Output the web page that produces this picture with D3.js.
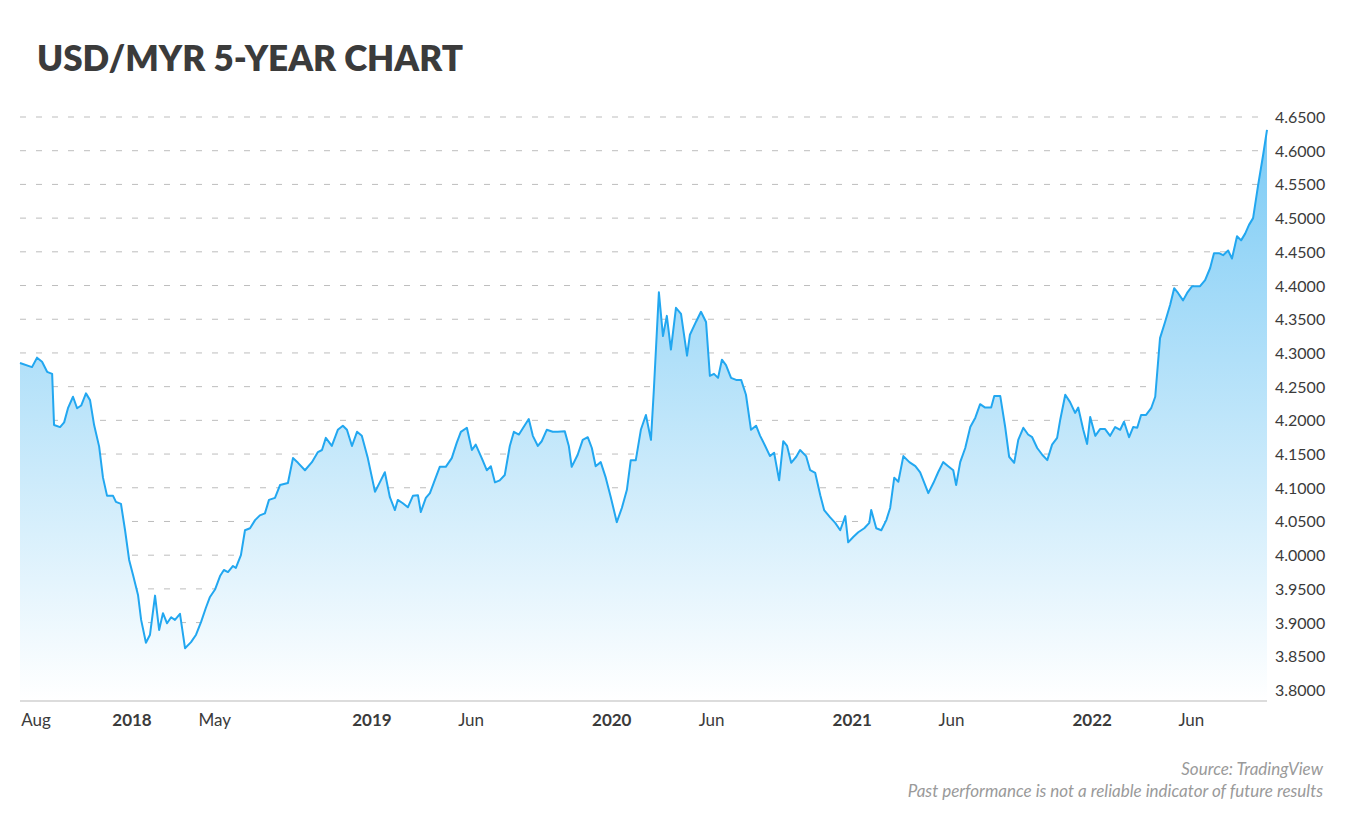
<!DOCTYPE html>
<html><head><meta charset="utf-8">
<script src="https://cdn.jsdelivr.net/npm/d3@7"></script>
<style>body{margin:0;background:#fff;font-family:Lato,"Open Sans",sans-serif;}</style>
</head><body>
<script>
// Decimal year of each observation.
const years = [2017.533,2017.583,2017.604,2017.625,2017.646,2017.667,2017.675,2017.700,2017.717,2017.733,2017.754,2017.771,2017.788,2017.808,2017.825,2017.842,2017.863,2017.879,2017.896,2017.921,2017.933,2017.954,2017.971,2017.988,2018.004,2018.025,2018.038,2018.058,2018.075,2018.096,2018.113,2018.129,2018.146,2018.163,2018.179,2018.200,2018.221,2018.246,2018.267,2018.288,2018.308,2018.325,2018.346,2018.367,2018.383,2018.400,2018.421,2018.433,2018.454,2018.471,2018.492,2018.513,2018.533,2018.554,2018.571,2018.596,2018.617,2018.650,2018.671,2018.692,2018.721,2018.750,2018.775,2018.792,2018.808,2018.833,2018.858,2018.879,2018.896,2018.917,2018.938,2018.958,2018.983,2019.013,2019.033,2019.054,2019.075,2019.096,2019.108,2019.129,2019.150,2019.171,2019.192,2019.204,2019.225,2019.242,2019.263,2019.283,2019.308,2019.333,2019.354,2019.371,2019.396,2019.417,2019.433,2019.458,2019.479,2019.496,2019.513,2019.533,2019.554,2019.575,2019.592,2019.613,2019.638,2019.654,2019.671,2019.692,2019.708,2019.729,2019.754,2019.775,2019.804,2019.821,2019.833,2019.858,2019.879,2019.900,2019.917,2019.933,2019.954,2019.975,2019.996,2020.021,2020.042,2020.063,2020.079,2020.100,2020.121,2020.142,2020.163,2020.175,2020.196,2020.213,2020.229,2020.246,2020.267,2020.288,2020.313,2020.325,2020.350,2020.371,2020.392,2020.408,2020.425,2020.442,2020.458,2020.475,2020.496,2020.517,2020.538,2020.558,2020.579,2020.600,2020.617,2020.638,2020.658,2020.675,2020.696,2020.713,2020.729,2020.746,2020.767,2020.783,2020.808,2020.825,2020.846,2020.867,2020.883,2020.908,2020.929,2020.950,2020.971,2020.983,2021.004,2021.025,2021.050,2021.071,2021.079,2021.100,2021.121,2021.142,2021.158,2021.175,2021.192,2021.213,2021.238,2021.263,2021.283,2021.304,2021.317,2021.338,2021.358,2021.379,2021.400,2021.421,2021.433,2021.450,2021.471,2021.492,2021.513,2021.533,2021.554,2021.579,2021.592,2021.617,2021.638,2021.654,2021.675,2021.692,2021.713,2021.733,2021.750,2021.771,2021.792,2021.813,2021.833,2021.854,2021.867,2021.888,2021.908,2021.929,2021.942,2021.963,2021.979,2021.992,2022.013,2022.033,2022.054,2022.075,2022.096,2022.117,2022.133,2022.154,2022.171,2022.188,2022.204,2022.225,2022.246,2022.263,2022.283,2022.304,2022.325,2022.342,2022.358,2022.379,2022.396,2022.417,2022.450,2022.471,2022.492,2022.508,2022.529,2022.546,2022.567,2022.583,2022.604,2022.621,2022.638,2022.654,2022.671,2022.692,2022.713,2022.729];

// USD/MYR rate at each observation.
const rates = [4.285,4.279,4.293,4.287,4.272,4.269,4.193,4.190,4.197,4.218,4.235,4.218,4.222,4.240,4.230,4.193,4.161,4.115,4.088,4.088,4.079,4.076,4.037,3.993,3.971,3.941,3.904,3.870,3.882,3.940,3.889,3.914,3.899,3.908,3.904,3.913,3.862,3.871,3.882,3.901,3.922,3.938,3.949,3.969,3.978,3.975,3.984,3.981,4.000,4.037,4.040,4.052,4.059,4.062,4.082,4.085,4.104,4.107,4.144,4.137,4.126,4.138,4.153,4.156,4.174,4.162,4.186,4.192,4.186,4.162,4.183,4.177,4.144,4.094,4.108,4.123,4.086,4.067,4.082,4.077,4.071,4.088,4.089,4.064,4.085,4.092,4.112,4.131,4.131,4.144,4.167,4.183,4.189,4.156,4.164,4.144,4.126,4.132,4.108,4.111,4.119,4.162,4.183,4.179,4.193,4.202,4.177,4.162,4.169,4.186,4.183,4.183,4.184,4.162,4.131,4.149,4.171,4.175,4.159,4.132,4.138,4.115,4.086,4.049,4.070,4.097,4.141,4.141,4.186,4.208,4.171,4.245,4.390,4.325,4.355,4.305,4.367,4.358,4.296,4.327,4.346,4.361,4.346,4.266,4.269,4.263,4.290,4.282,4.263,4.260,4.260,4.238,4.186,4.192,4.177,4.162,4.147,4.152,4.111,4.169,4.162,4.137,4.146,4.156,4.147,4.126,4.122,4.089,4.067,4.056,4.048,4.037,4.058,4.019,4.027,4.034,4.040,4.048,4.067,4.040,4.037,4.052,4.070,4.115,4.109,4.147,4.138,4.132,4.123,4.104,4.092,4.107,4.123,4.138,4.132,4.126,4.104,4.138,4.159,4.190,4.204,4.224,4.219,4.219,4.236,4.236,4.189,4.146,4.137,4.171,4.189,4.179,4.175,4.159,4.149,4.141,4.164,4.174,4.201,4.238,4.227,4.211,4.219,4.186,4.165,4.205,4.177,4.187,4.187,4.177,4.190,4.186,4.198,4.175,4.190,4.189,4.208,4.208,4.218,4.235,4.322,4.346,4.371,4.396,4.389,4.378,4.389,4.399,4.399,4.408,4.426,4.448,4.448,4.445,4.452,4.440,4.473,4.467,4.477,4.490,4.500,4.549,4.594,4.631];

// Y tick values.
const yTicks = [3.80,3.85,3.90,3.95,4.00,4.05,4.10,4.15,4.20,4.25,4.30,4.35,4.40,4.45,4.50,4.55,4.60,4.65];

// X tick dates and labels (bold = year start).
const xTickDates = ["2017-08-01","2018-01-01","2018-05-01","2019-01-01","2019-06-01","2020-01-01","2020-06-01","2021-01-01","2021-06-01","2022-01-01","2022-06-01"];
const xTickLabels = ["Aug","2018","May","2019","Jun","2020","Jun","2021","Jun","2022","Jun"];

const toDate = function (yv) {
    const yr = Math.floor(yv);
    const a = Date.UTC(yr, 0, 1), b = Date.UTC(yr + 1, 0, 1);
    return new Date(a + (yv - yr) * (b - a));
};
const data = years.map((yv, i) => ({date: toDate(yv), v: rates[i]}));

const W = 1350, H = 829;
const plotLeft = 20, plotRight = 1267, plotTop = 117, plotBottom = 690;

const svg = d3.select("body").append("svg").attr("width", W).attr("height", H);

const x = d3.scaleUtc().domain([toDate(years[0]), toDate(years[years.length - 1])]).range([plotLeft, plotRight]);
const y = d3.scaleLinear().domain([3.80, 4.65]).range([plotBottom, plotTop]);

// Title.
svg.append("text").attr("x", 37).attr("y", 71)
    .attr("font-size", 35).attr("font-weight", 800).attr("fill", "#3b3b3b")
    .attr("font-family", "Lato, sans-serif").text("USD/MYR 5-YEAR CHART");

// Gradient fill.
const grad = svg.append("defs").append("linearGradient").attr("id", "g")
    .attr("x1", 0).attr("y1", 0).attr("x2", 0).attr("y2", 1);
grad.append("stop").attr("offset", "0%").attr("stop-color", "#7ccbf5");
grad.append("stop").attr("offset", "100%").attr("stop-color", "#ffffff");

// Grid lines.
svg.append("g").selectAll("line").data(yTicks).join("line")
    .attr("x1", plotLeft).attr("x2", 1262)
    .attr("y1", d => y(d)).attr("y2", d => y(d))
    .attr("stroke", "#bdbdbd").attr("stroke-dasharray", "6,10");

// Area and line.
svg.append("path").datum(data).attr("fill", "url(#g)")
    .attr("d", d3.area().x(d => x(d.date)).y0(700).y1(d => y(d.v)));
svg.append("path").datum(data).attr("fill", "none")
    .attr("stroke", "#22a7f0").attr("stroke-width", 2).attr("stroke-linejoin", "round")
    .attr("d", d3.line().x(d => x(d.date)).y(d => y(d.v)));

// X axis line.
svg.append("line").attr("x1", plotLeft).attr("x2", plotRight).attr("y1", 701).attr("y2", 701)
    .attr("stroke", "#d0d0d0").attr("stroke-width", 1.5);

// Y axis labels.
svg.append("g").selectAll("text").data(yTicks).join("text")
    .attr("x", 1275).attr("y", d => y(d) + 6)
    .attr("font-size", 16).attr("fill", "#3b3b3b")
    .text(d => d.toFixed(4));

// X axis labels.
svg.append("g").selectAll("text").data(xTickDates).join("text")
    .attr("x", (d, i) => Math.max(x(new Date(d)), 36) + (i === 2 ? 4 : 0))
    .attr("y", 726)
    .attr("text-anchor", "middle")
    .attr("font-size", 17)
    .attr("font-weight", (d, i) => /^\d/.test(xTickLabels[i]) ? 700 : 400)
    .attr("fill", "#3b3b3b")
    .text((d, i) => xTickLabels[i]);

// Source notes.
svg.append("text").attr("x", 1323).attr("y", 775).attr("text-anchor", "end")
    .attr("font-size", 17).attr("font-style", "italic").attr("fill", "#9a9a9a")
    .text("Source: TradingView");
svg.append("text").attr("x", 1323).attr("y", 797).attr("text-anchor", "end")
    .attr("font-size", 17).attr("font-style", "italic").attr("fill", "#9a9a9a")
    .text("Past performance is not a reliable indicator of future results");
</script>
</body></html>
